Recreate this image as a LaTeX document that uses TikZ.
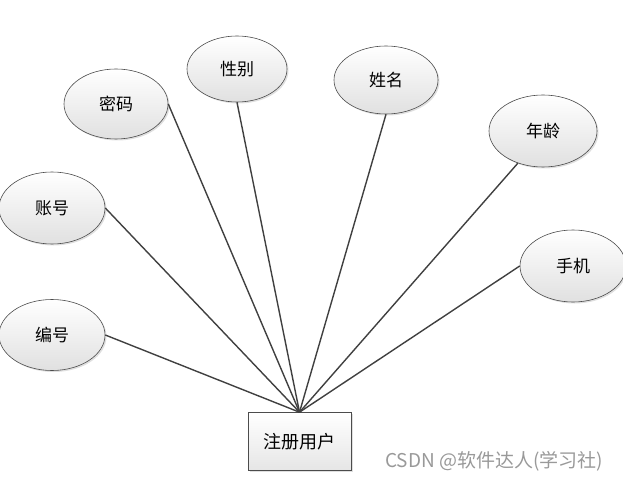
\documentclass[tikz,border=0pt]{standalone}
\usepackage{fontspec}
\newfontfamily\cjk{Noto Sans CJK SC}
\usetikzlibrary{shapes.geometric,shadows}
\begin{document}
\begin{tikzpicture}[x=1pt,y=-1pt,
  attr/.style={ellipse,draw=black!70,line width=0.6pt,top color=white,bottom color=black!12,
    drop shadow={shadow xshift=1.5pt,shadow yshift=-1.5pt,opacity=0.25},
    inner sep=0pt,font=\cjk\fontsize{17}{20}\selectfont},
  ent/.style={rectangle,draw=black!70,line width=0.6pt,top color=white,bottom color=black!10,
    drop shadow={shadow xshift=1.5pt,shadow yshift=-1.5pt,opacity=0.25},
    minimum width=103pt,minimum height=58pt,inner sep=0pt,font=\cjk\fontsize{18}{21}\selectfont},
  link/.style={draw=black!75,line width=1.4pt}]
\useasboundingbox (0,0) rectangle (623,481);
\node[attr,minimum width=106pt,minimum height=71pt] (bianhao) at (52,335) {编号};
\node[attr,minimum width=106pt,minimum height=72pt] (zhanghao) at (52,208) {账号};
\node[attr,minimum width=104pt,minimum height=70pt] (mima) at (116,104) {密码};
\node[attr,minimum width=100pt,minimum height=66pt] (xingbie) at (237,69) {性别};
\node[attr,minimum width=104pt,minimum height=68pt] (xingming) at (386,80) {姓名};
\node[attr,minimum width=108pt,minimum height=72pt] (nianling) at (543,131) {年龄};
\node[attr,minimum width=106pt,minimum height=72pt] (shouji) at (573,266) {手机};
\node[ent] (user) at (299.5,441.5) {注册用户};
\draw[link] (bianhao.east) -- (user.north);
\draw[link] (zhanghao.east) -- (user.north);
\draw[link] (mima.east) -- (user.north);
\draw[link] (xingbie.south) -- (user.north);
\draw[link] (xingming.south) -- (user.north);
\draw[link] (nianling.232) -- (user.north);
\draw[link] (shouji.west) -- (user.north);
\node[font=\cjk\fontsize{19}{22}\selectfont,text=black!40,anchor=west,inner sep=0pt] (wm) at (385,461) {CSDN @软件达人(学习社)};
\end{tikzpicture}
\end{document}
